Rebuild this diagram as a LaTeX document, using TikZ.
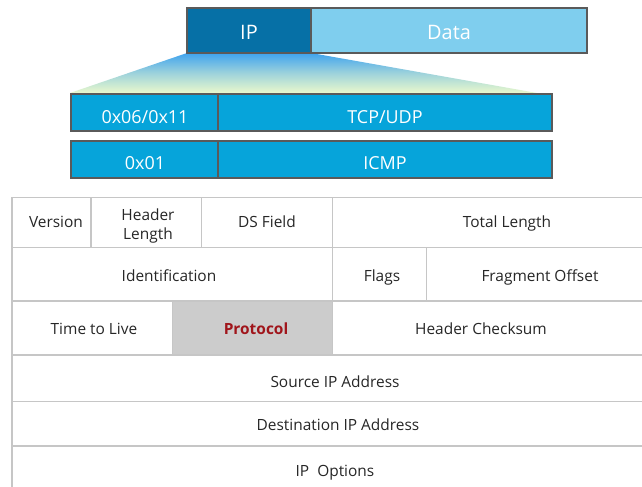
\documentclass[tikz,border=0pt]{standalone}
\usepackage{fontspec}
\setmainfont{Open Sans}
\definecolor{ipblue}{HTML}{0670A6}
\definecolor{datablue}{HTML}{7FCEEE}
\definecolor{boxblue}{HTML}{06A4DA}
\definecolor{boxedge}{HTML}{5A5A5A}
\definecolor{gridgray}{HTML}{C6C6C6}
\definecolor{txtgray}{HTML}{262626}
\definecolor{protored}{HTML}{A0151B}
\definecolor{protofill}{HTML}{CCCCCC}
\definecolor{gradtop}{HTML}{3FA3EE}
\definecolor{gradbot}{HTML}{EAF9CC}
\begin{document}
\begin{tikzpicture}[x=1bp,y=1bp,
  topbox/.style={draw=boxedge,line width=1.4bp,fill=#1},
  toptxt/.style={anchor=base,text=white,font=\fontsize{20}{24}\selectfont,inner sep=0pt},
  rowtxt/.style={anchor=base,text=white,font=\fontsize{18}{22}\selectfont,inner sep=0pt},
  celltxt/.style={anchor=base,text=txtgray,font=\fontsize{15.5}{19}\selectfont,inner sep=0pt},
  gridline/.style={draw=gridgray,line width=1.1bp}]
\useasboundingbox (0,0) rectangle (642,487);
% gradient fan
\shade[top color=gradtop,bottom color=gradbot,middle color=gradtop!45!gradbot] (187,434) -- (311,434) -- (537,394) -- (70,394) -- cycle;
% top boxes
\path[topbox=ipblue] (187,434) rectangle (311,479);
\path[topbox=datablue] (311,434) rectangle (587,479);
\node[toptxt] (ip) at (249,447) {IP};
\node[toptxt] (data) at (449,447) {Data};
\path[topbox=boxblue] (71,356) rectangle (218,393);
\path[topbox=boxblue] (218,356) rectangle (552,393);
\path[topbox=boxblue] (71,309) rectangle (218,346);
\path[topbox=boxblue] (218,309) rectangle (552,346);
\node[rowtxt] (p1) at (145,363.7) {0x06/0x11};
\node[rowtxt] (tcp) at (385,363.7) {TCP/UDP};
\node[rowtxt] (p2) at (145,317) {0x01};
\node[rowtxt] (icmp) at (385,317) {ICMP};
% protocol cell fill
\fill[protofill] (172.3,132) rectangle (332.7,186);
% table grid
\draw[gridline] (12,-5) -- (12,289.7);
\foreach \yy in {289.7,239.7,186,132,85.3,41}
  \draw[gridline] (12,\yy) -- (660,\yy);
\draw[gridline] (91,239.7) -- (91,289.7);
\draw[gridline] (201.7,239.7) -- (201.7,289.7);
\draw[gridline] (332.7,132) -- (332.7,289.7);
\draw[gridline] (426.7,186) -- (426.7,239.7);
\draw[gridline] (172.3,132) -- (172.3,186);
% texts
\node[celltxt] (ver) at (56,259.5) {Version};
\node[celltxt] (hl1) at (148,266.3) {Header};
\node[celltxt] (hl2) at (148,247.4) {Length};
\node[celltxt] (ds) at (267,259.5) {DS Field};
\node[celltxt] (tl) at (507,259.5) {Total Length};
\node[celltxt] (id) at (169,205) {Identification};
\node[celltxt] (fl) at (382,205) {Flags};
\node[celltxt] (fo) at (540,205) {Fragment Offset};
\node[celltxt] (ttl) at (94,152) {Time to Live};
\node[celltxt,text=protored,font=\fontsize{15.5}{19}\selectfont\bfseries] (pr) at (256,152) {Protocol};
\node[celltxt] (hc) at (481,152) {Header Checksum};
\node[celltxt] (src) at (335,99.7) {Source IP Address};
\node[celltxt] (dst) at (338,56.3) {Destination IP Address};
\node[celltxt] (opt) at (335,10.3) {IP\ \ Options};
\end{tikzpicture}
\end{document}
